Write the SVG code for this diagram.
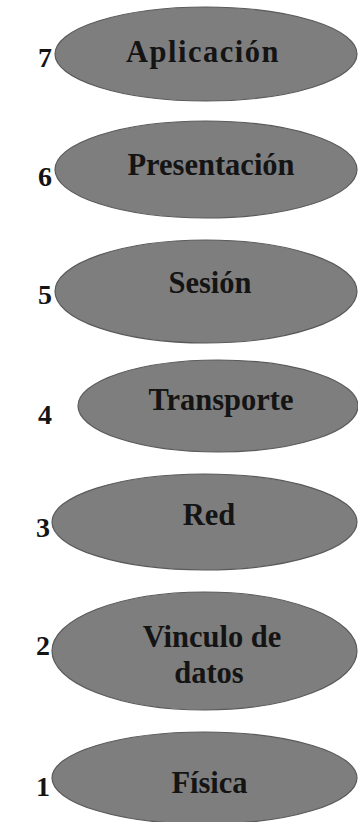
<svg xmlns="http://www.w3.org/2000/svg" width="358" height="822" viewBox="0 0 358 822">
  <style>
    .bg { fill: #ffffff; }
    .layer ellipse { fill: #7e7e7e; stroke: #5a5a5a; stroke-width: 1.2; }
    .label { font-family: "Liberation Serif", "Times New Roman", serif; font-weight: bold; font-size: 30.5px; fill: #141414; text-anchor: middle; }
    .num { font-family: "Liberation Serif", "Times New Roman", serif; font-weight: bold; font-size: 28px; fill: #141414; text-anchor: end; }
  </style>
  <rect class="bg" x="0" y="0" width="358" height="822"/>
  <g id="connectors"></g>
  <g id="layer7" class="layer">
    <ellipse cx="206" cy="54" rx="151" ry="47"/>
    <text class="label" x="203" y="62" letter-spacing="1.5">Aplicación</text>
    <text class="num" x="52" y="67">7</text>
  </g>
  <g id="layer6" class="layer">
    <ellipse cx="206" cy="169.5" rx="151" ry="48.5"/>
    <text class="label" x="211" y="175">Presentación</text>
    <text class="num" x="52" y="186">6</text>
  </g>
  <g id="layer5" class="layer">
    <ellipse cx="206" cy="291.5" rx="151" ry="51.5"/>
    <text class="label" x="210" y="293">Sesión</text>
    <text class="num" x="52" y="304">5</text>
  </g>
  <g id="layer4" class="layer">
    <ellipse cx="218" cy="406" rx="140" ry="46"/>
    <text class="label" x="221" y="410">Transporte</text>
    <text class="num" x="52" y="424">4</text>
  </g>
  <g id="layer3" class="layer">
    <ellipse cx="204.5" cy="522" rx="152.5" ry="48"/>
    <text class="label" x="209" y="525">Red</text>
    <text class="num" x="50" y="537">3</text>
  </g>
  <g id="layer2" class="layer">
    <ellipse cx="204.5" cy="651" rx="152.5" ry="59"/>
    <text class="label" x="212" y="647">Vinculo de</text>
    <text class="label" x="209" y="683">datos</text>
    <text class="num" x="50" y="655">2</text>
  </g>
  <g id="layer1" class="layer">
    <ellipse cx="204.5" cy="778" rx="152.5" ry="46"/>
    <text class="label" x="209.5" y="793">Física</text>
    <text class="num" x="50" y="796">1</text>
  </g>
</svg>
